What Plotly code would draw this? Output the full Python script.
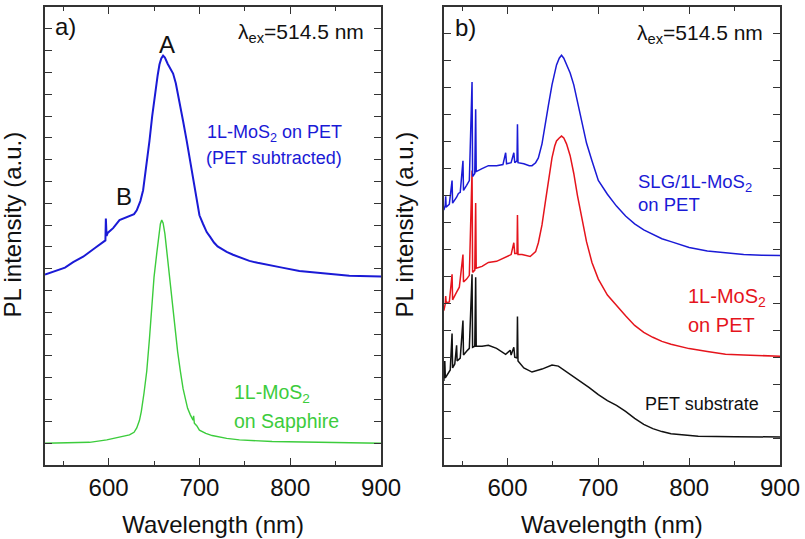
import plotly.graph_objects as go

# ---------------- Panel a) data (arbitrary units) ----------------
wl_a_blue = [530, 540, 552, 561, 572, 585, 594, 596.5, 597, 597.8, 599, 605, 612, 618, 623, 628,
             631, 635, 638, 641, 645, 648, 651, 654, 656, 658, 660, 662, 665, 668, 671, 674,
             678, 682, 686, 690, 695, 700, 704, 708, 712, 716, 720, 725, 730, 737, 745, 755,
             764, 774, 791, 810, 829, 846, 865, 900]
pl_a_blue = [7.73, 7.86, 8.05, 8.30, 8.55, 8.95, 9.23, 9.30, 10.30, 9.50, 9.64, 9.86, 10.23, 10.32, 10.40, 10.50,
             10.68, 11.10, 11.60, 12.50, 13.86, 15.00, 16.00, 16.86, 17.36, 17.64, 17.77, 17.68, 17.40, 17.18, 16.95, 16.50,
             15.68, 14.77, 13.86, 12.86, 11.73, 10.45, 10.05, 9.68, 9.45, 9.20, 9.02, 8.89, 8.77, 8.64, 8.50, 8.36,
             8.27, 8.18, 8.05, 7.90, 7.82, 7.73, 7.68, 7.64]

wl_a_green = [530, 560, 579, 598, 612, 623, 628, 631, 634, 636, 639, 642, 645, 647, 650, 653, 655.5,
              657, 658.5, 660, 662, 665, 668, 671, 674, 676, 679, 682, 685, 687, 690, 693, 693.6,
              694.4, 697, 700, 707, 714, 730, 744, 780, 835, 900]
pl_a_green = [0.00, 0.02, 0.04, 0.15, 0.27, 0.38, 0.50, 0.70, 1.05, 1.45, 2.30, 3.30, 4.80, 6.10, 7.60, 8.70, 9.60,
              10.05, 10.23, 10.10, 9.60, 8.40, 7.20, 6.10, 5.00, 4.20, 3.30, 2.50, 1.95, 1.60, 1.30, 1.05, 1.25,
              0.92, 0.80, 0.60, 0.45, 0.35, 0.22, 0.15, 0.08, 0.03, 0.00]

# ---------------- Panel b) data (arbitrary units) ----------------
wl_b_blue = [530, 531.5, 532, 532.5, 536, 539, 539.6, 542, 544, 546, 548, 551, 551.6, 555, 558, 561,
             561.6, 564, 565, 565.6, 569, 572, 579, 588, 595, 598, 599, 604, 607, 608, 610.5, 611,
             611.6, 618, 624, 627, 631, 634, 638, 642, 645, 649, 652, 654, 657, 659.5, 662, 665,
             669, 673, 677, 682, 687, 693, 700, 710, 720, 730, 740, 750, 760, 770, 780, 790,
             800, 820, 840, 860, 880, 900]
pl_b_blue = [8.46, 8.64, 8.97, 8.57, 8.68, 9.56, 8.72, 8.83, 8.94, 9.08, 9.12, 10.29, 9.19, 9.38, 9.56, 13.22,
             9.71, 9.82, 12.20, 9.89, 9.96, 10.00, 10.11, 10.11, 10.15, 10.59, 10.18, 10.22, 10.59, 10.22, 10.29, 11.65,
             10.22, 10.18, 10.11, 10.11, 10.22, 10.40, 10.92, 11.65, 12.34, 13.11, 13.59, 13.85, 14.10, 14.21, 14.10, 13.88,
             13.55, 13.11, 12.49, 11.65, 10.95, 10.29, 9.56, 9.05, 8.61, 8.24, 7.95, 7.73, 7.55, 7.40, 7.29, 7.18,
             7.07, 6.94, 6.87, 6.81, 6.79, 6.78]

wl_b_red = [530, 531.5, 532, 532.5, 536, 539, 539.6, 542, 544, 547, 551, 551.6, 555, 558, 561, 561.6,
            564, 565, 565.6, 572, 579, 588, 598, 604, 607, 608, 610.5, 611, 611.6, 616, 625, 631,
            634, 638, 642, 645, 649, 652, 654, 657, 659.5, 662, 665, 669, 673, 677, 682, 687,
            693, 700, 710, 720, 730, 740, 750, 760, 770, 780, 790, 800, 820, 840, 860, 880, 900]
pl_b_red = [4.73, 4.98, 5.27, 5.02, 5.05, 6.08, 5.13, 5.31, 5.42, 5.60, 6.81, 5.79, 5.90, 6.04, 9.93, 6.15,
            6.23, 8.72, 6.30, 6.37, 6.52, 6.56, 6.70, 6.81, 7.25, 6.85, 6.85, 8.28, 6.81, 6.81, 6.74, 6.92,
            7.25, 7.91, 8.83, 9.56, 10.40, 10.84, 11.03, 11.14, 11.21, 11.14, 10.92, 10.48, 9.82, 9.01, 8.10, 7.29,
            6.52, 5.90, 5.31, 4.91, 4.54, 4.18, 3.92, 3.74, 3.59, 3.48, 3.39, 3.32, 3.21, 3.11, 3.08, 3.06, 3.04]

wl_b_black = [530, 531, 531.6, 535, 537, 539, 539.6, 542, 544, 544.6, 548, 551, 551.6, 555, 558, 561,
              561.6, 564, 565, 565.6, 572, 579, 588, 598, 603, 604, 607, 608, 610.5, 611, 611.6, 618,
              627, 638, 649, 656, 667, 682, 690, 700, 710, 720, 730, 740, 750, 760, 770, 780,
              790, 810, 850, 900]
pl_b_black = [2.12, 2.86, 2.23, 2.42, 2.53, 3.88, 2.60, 2.75, 3.44, 2.86, 2.97, 4.36, 3.08, 3.22, 3.33, 6.08,
              3.37, 3.41, 5.97, 3.41, 3.41, 3.44, 3.33, 3.11, 3.26, 3.08, 3.37, 3.00, 2.97, 4.51, 2.86, 2.60,
              2.45, 2.56, 2.71, 2.67, 2.42, 2.05, 1.87, 1.61, 1.39, 1.21, 0.99, 0.73, 0.51, 0.35, 0.24, 0.16,
              0.13, 0.07, 0.05, 0.04]

x_ticks = [600, 700, 800, 900]
x_minor_ticks = [550, 650, 750, 850]
x_title = "Wavelength (nm)"
y_title = "PL intensity (a.u.)"

FONT = "Liberation Sans, Arial, sans-serif"
BLUE = "#1a1ad6"
GREEN = "#3ccc3c"
RED = "#e5141c"
BLACK = "#111111"
AX = "#333333"

fig = go.Figure()
fig.add_trace(go.Scatter(x=wl_a_blue, y=pl_a_blue, mode="lines", line=dict(color=BLUE, width=2),
                         xaxis="x", yaxis="y", showlegend=False))
fig.add_trace(go.Scatter(x=wl_a_green, y=pl_a_green, mode="lines", line=dict(color=GREEN, width=1.4),
                         xaxis="x", yaxis="y", showlegend=False))
fig.add_trace(go.Scatter(x=wl_b_black, y=pl_b_black, mode="lines", line=dict(color=BLACK, width=1.5),
                         xaxis="x2", yaxis="y2", showlegend=False))
fig.add_trace(go.Scatter(x=wl_b_red, y=pl_b_red, mode="lines", line=dict(color=RED, width=1.5),
                         xaxis="x2", yaxis="y2", showlegend=False))
fig.add_trace(go.Scatter(x=wl_b_blue, y=pl_b_blue, mode="lines", line=dict(color=BLUE, width=1.5),
                         xaxis="x2", yaxis="y2", showlegend=False))

def xax(domain, anchor):
    return dict(domain=domain, anchor=anchor, range=[530, 900], tickvals=x_ticks,
                ticks="inside", ticklen=7, tickwidth=1.3, tickcolor=AX,
                showline=True, linecolor=AX, linewidth=1.5, mirror="ticks",
                showgrid=False, zeroline=False,
                minor=dict(tickvals=x_minor_ticks, ticks="inside", ticklen=4,
                           tickwidth=1.3, tickcolor=AX, showgrid=False),
                tickfont=dict(family=FONT, size=24, color="#111"),
                title=dict(text=x_title, font=dict(family=FONT, size=24, color="#111"), standoff=17))

def yax(rng, anchor):
    return dict(anchor=anchor, range=rng, tick0=0, dtick=1, showticklabels=False,
                ticks="inside", ticklen=7, tickwidth=1.3, tickcolor=AX,
                showline=True, linecolor=AX, linewidth=1.5, mirror="ticks",
                showgrid=False, zeroline=False)

fig.update_layout(
    width=805, height=539,
    margin=dict(l=45, r=23, t=5, b=72),
    paper_bgcolor="white", plot_bgcolor="white",
    xaxis=xax([0, 0.4573], "y"),
    xaxis2=xax([0.5427, 1], "y2"),
    yaxis=yax([-1, 20], "x"),
    yaxis2=yax([-1, 16], "x2"),
    font=dict(family=FONT, color="#111"),
)

def ann(text, x, y, xref, yref, size, color="#111", xanchor="center", yanchor="middle", angle=0):
    fig.add_annotation(text=text, x=x, y=y, xref=xref, yref=yref, showarrow=False,
                       xanchor=xanchor, yanchor=yanchor, textangle=angle,
                       font=dict(family=FONT, size=size, color=color))

# Panel a) annotations
ann("a)", 553.1, 19.09, "x", "y", 24)
ann("A", 664.5, 18.3, "x", "y", 24)
ann("B", 616.7, 11.29, "x", "y", 24)
ann("λ<sub>ex</sub>=514.5 nm", 883.5, 18.8, "x", "y", 21, xanchor="right")
ann("1L-MoS<sub>2</sub> on PET", 782.5, 14.2, "x", "y", 18, BLUE)
ann("(PET subtracted)", 782.5, 13.09, "x", "y", 18, BLUE)
ann("1L-MoS<sub>2</sub>", 735.3, 2.3, "x", "y", 19.5, GREEN, xanchor="left")
ann("on Sapphire", 735.3, 1.0, "x", "y", 19.5, GREEN, xanchor="left")

# Panel b) annotations
ann("b)", 554.2, 15.24, "x2", "y2", 24)
ann("λ<sub>ex</sub>=514.5 nm", 883.5, 15.0, "x2", "y2", 21, xanchor="right")
ann("SLG/1L-MoS<sub>2</sub>", 741.9, 9.45, "x2", "y2", 18.5, BLUE, xanchor="left")
ann("on PET", 741.9, 8.68, "x2", "y2", 18.5, BLUE, xanchor="left")
ann("1L-MoS<sub>2</sub>", 796.8, 5.2, "x2", "y2", 20, RED, xanchor="left")
ann("on PET", 796.8, 4.18, "x2", "y2", 20, RED, xanchor="left")
ann("PET substrate", 749.6, 1.25, "x2", "y2", 18, BLACK, xanchor="left")

# Y axis titles
ann(y_title, -0.0448, 0.525, "paper", "paper", 24, angle=-90)
ann(y_title, (406 - 45) / 737, 0.525, "paper", "paper", 24, angle=-90)

fig.write_html("out.html", config={"displayModeBar": False},
               post_script="document.body.style.margin='0';document.body.style.overflow='hidden';")
